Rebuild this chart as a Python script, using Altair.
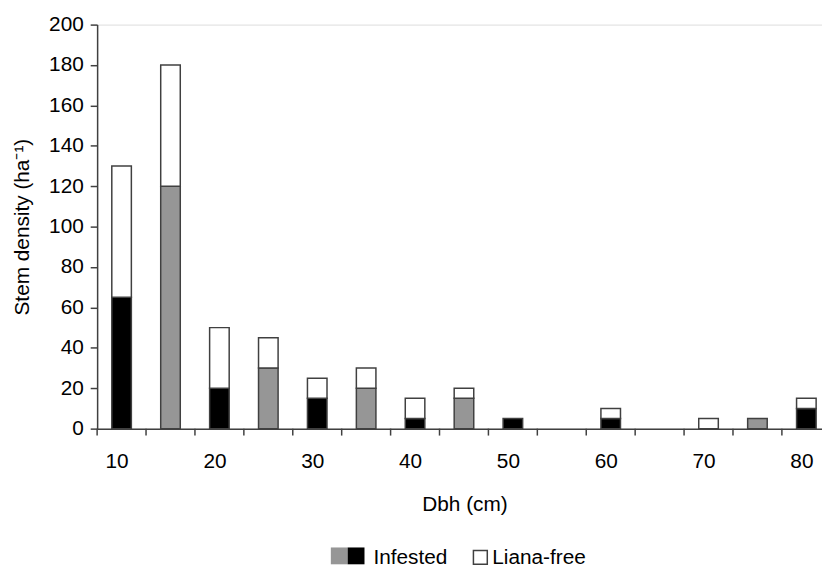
import altair as alt
import pandas as pd

# Dbh classes (cm) and stem densities (ha-1)
dbh = [10, 15, 20, 25, 30, 35, 40, 45, 50, 55, 60, 65, 70, 75, 80]
infested = [65, 120, 20, 30, 15, 20, 5, 15, 5, 0, 5, 0, 0, 5, 10]
liana_free = [65, 60, 30, 15, 10, 10, 10, 5, 0, 0, 5, 0, 5, 0, 5]

x_label_values = [10, 20, 30, 40, 50, 60, 70, 80]
x_tick_values = [7.5, 12.5, 17.5, 22.5, 27.5, 32.5, 37.5, 42.5, 47.5, 52.5,
                 57.5, 62.5, 67.5, 72.5, 77.5]
y_tick_values = [0, 20, 40, 60, 80, 100, 120, 140, 160, 180, 200]
legend_labels = ["Infested", "Liana-free"]

FONT = "Liberation Sans"
FS = 21
W, H = 732, 408
STROKE = "#404040"

df = pd.DataFrame({"dbh": dbh, "infested": infested, "free": liana_free})
ticks_df = pd.DataFrame({"t": x_tick_values})

xscale = alt.Scale(domain=[7.5, 81.6], nice=False, zero=False)
yscale = alt.Scale(domain=[0, 200], nice=False)

xaxis = alt.Axis(values=x_label_values, ticks=False, labelFontSize=FS,
                 labelFont=FONT, labelColor="black", labelPadding=22,
                 labelBaseline="top", labelOffset=-5,
                 title="Dbh (cm)", titleFont=FONT, titleFontSize=FS,
                 titleFontWeight="normal", titleColor="black",
                 titleBaseline="alphabetic", titleY=83, titleX=371,
                 domainColor=STROKE, domainWidth=1.5, grid=False)
yaxis = alt.Axis(values=y_tick_values, tickSize=7, tickColor=STROKE,
                 tickWidth=1.5, labelFontSize=FS, labelFont=FONT,
                 labelColor="black", labelPadding=7,
                 title="Stem density (ha⁻¹)", titleFont=FONT, titleFontSize=FS,
                 titleFontWeight="normal", titleColor="black",
                 titleX=-65, titleY=204,
                 domainColor=STROKE, domainWidth=1.5, grid=False)

base = alt.Chart(df).transform_calculate(
    x0="datum.dbh - 1.0",
    x1="datum.dbh + 1.0",
    total="datum.infested + datum.free",
    shade="datum.dbh % 10 == 0 ? 'black' : 'gray'",
)

inf_bars = base.transform_filter("datum.infested > 0").mark_bar(
    stroke=STROKE, strokeWidth=1.5
).encode(
    x=alt.X("x0:Q", scale=xscale, axis=xaxis),
    x2="x1:Q",
    y=alt.Y("infested:Q", scale=yscale, axis=yaxis),
    y2=alt.datum(0),
    fill=alt.Fill("shade:N", scale=alt.Scale(domain=["black", "gray"],
                                             range=["#000000", "#969696"]),
                  legend=None),
)

free_bars = base.transform_filter("datum.free > 0").mark_bar(
    stroke=STROKE, strokeWidth=1.5, fill="white"
).encode(
    x=alt.X("x0:Q", scale=xscale),
    x2="x1:Q",
    y=alt.Y("infested:Q", scale=yscale),
    y2="total:Q",
)

tick_marks = alt.Chart(ticks_df).mark_rule(color=STROKE, strokeWidth=1.5).encode(
    x=alt.X("t:Q", scale=xscale),
    y=alt.value(H),
    y2=alt.value(H + 7),
)

LY = 545  # legend baseline (plot coords)
leg_df = pd.DataFrame({"label": legend_labels})
leg_gray = alt.Chart(leg_df).transform_filter("datum.label == 'Infested'").mark_rect(
    fill="#969696").encode(x=alt.value(236), x2=alt.value(253),
                           y=alt.value(LY - 17), y2=alt.value(LY))
leg_black = alt.Chart(leg_df).transform_filter("datum.label == 'Infested'").mark_rect(
    fill="#000000").encode(x=alt.value(253), x2=alt.value(270),
                           y=alt.value(LY - 17), y2=alt.value(LY))
leg_white = alt.Chart(leg_df).transform_filter("datum.label == 'Liana-free'").mark_rect(
    fill="white", stroke=STROKE, strokeWidth=1.5).encode(
    x=alt.value(380), x2=alt.value(394), y=alt.value(LY - 14), y2=alt.value(LY))
leg_text1 = alt.Chart(leg_df).transform_filter("datum.label == 'Infested'").mark_text(
    align="left", baseline="alphabetic", font=FONT, fontSize=FS, color="black"
).encode(x=alt.value(279), y=alt.value(LY), text="label:N")
leg_text2 = alt.Chart(leg_df).transform_filter("datum.label == 'Liana-free'").mark_text(
    align="left", baseline="alphabetic", font=FONT, fontSize=FS, color="black"
).encode(x=alt.value(399), y=alt.value(LY), text="label:N")

chart = alt.layer(
    inf_bars, free_bars, tick_marks,
    leg_gray, leg_black, leg_white, leg_text1, leg_text2
).properties(
    width=W, height=H,
    autosize=alt.AutoSizeParams(type="none"),
    padding={"left": 90, "top": 14, "right": 0, "bottom": 142},
).configure_view(stroke=None).configure(background="white")

chart.save("out.html", embed_options={"renderer": "svg", "actions": False})
